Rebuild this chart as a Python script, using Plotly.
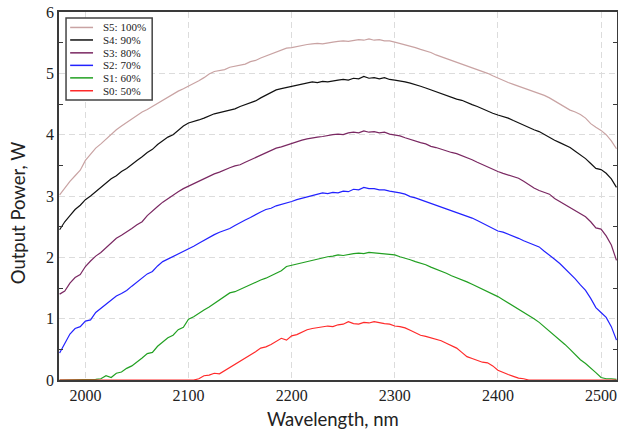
import plotly.graph_objects as go

# wavelength grid (nm), one reading every 5 nm
wavelength = list(range(1975, 2520, 5))

s5_100 = [
    3.02, 3.13, 3.24, 3.33, 3.42, 3.58, 3.68, 3.78, 3.85, 3.93,
    4.00, 4.08, 4.14, 4.20, 4.26, 4.32, 4.37, 4.41, 4.46, 4.51,
    4.57, 4.62, 4.67, 4.71, 4.75, 4.79, 4.83, 4.88, 4.93, 4.99,
    5.03, 5.05, 5.06, 5.10, 5.12, 5.13, 5.15, 5.19, 5.21, 5.25,
    5.28, 5.32, 5.35, 5.38, 5.41, 5.42, 5.44, 5.46, 5.47, 5.48,
    5.49, 5.48, 5.50, 5.51, 5.52, 5.53, 5.52, 5.54, 5.55, 5.54,
    5.56, 5.54, 5.55, 5.53, 5.53, 5.51, 5.49, 5.47, 5.44, 5.42,
    5.39, 5.37, 5.34, 5.30, 5.27, 5.25, 5.22, 5.19, 5.16, 5.13,
    5.10, 5.07, 5.03, 5.00, 4.96, 4.92, 4.89, 4.85, 4.82, 4.79,
    4.76, 4.73, 4.71, 4.68, 4.64, 4.60, 4.55, 4.50, 4.45, 4.40,
    4.37, 4.33, 4.27, 4.18, 4.12, 4.07, 4.00, 3.90, 3.77,
]
s4_90 = [
    2.45, 2.58, 2.68, 2.78, 2.85, 2.94, 3.00, 3.07, 3.14, 3.22,
    3.28, 3.33, 3.40, 3.45, 3.52, 3.58, 3.64, 3.71, 3.76, 3.84,
    3.90, 3.96, 4.00, 4.07, 4.14, 4.19, 4.21, 4.24, 4.27, 4.31,
    4.34, 4.36, 4.38, 4.40, 4.42, 4.46, 4.49, 4.52, 4.55, 4.60,
    4.64, 4.69, 4.73, 4.75, 4.77, 4.79, 4.81, 4.83, 4.84, 4.86,
    4.85, 4.87, 4.86, 4.88, 4.89, 4.90, 4.89, 4.92, 4.91, 4.95,
    4.92, 4.93, 4.91, 4.93, 4.90, 4.89, 4.88, 4.86, 4.84, 4.82,
    4.79, 4.76, 4.73, 4.70, 4.66, 4.63, 4.61, 4.58, 4.56, 4.52,
    4.49, 4.46, 4.42, 4.39, 4.35, 4.32, 4.30, 4.27, 4.23, 4.19,
    4.16, 4.12, 4.08, 4.05, 4.00, 3.95, 3.91, 3.87, 3.83, 3.79,
    3.73, 3.67, 3.61, 3.53, 3.45, 3.43, 3.37, 3.28, 3.14,
]
s3_80 = [
    1.40, 1.45, 1.58, 1.67, 1.72, 1.85, 1.94, 2.02, 2.08, 2.16,
    2.23, 2.31, 2.36, 2.41, 2.47, 2.53, 2.58, 2.68, 2.76, 2.83,
    2.90, 2.96, 3.02, 3.07, 3.12, 3.16, 3.20, 3.25, 3.29, 3.33,
    3.36, 3.39, 3.43, 3.46, 3.49, 3.51, 3.55, 3.59, 3.62, 3.66,
    3.70, 3.74, 3.78, 3.80, 3.83, 3.86, 3.88, 3.91, 3.93, 3.95,
    3.96, 3.97, 3.99, 4.00, 4.01, 4.00, 4.03, 4.04, 4.03, 4.06,
    4.04, 4.05, 4.03, 4.04, 4.01, 4.00, 3.98, 3.95, 3.92, 3.90,
    3.87, 3.85, 3.81, 3.79, 3.76, 3.74, 3.71, 3.69, 3.66, 3.62,
    3.59, 3.55, 3.51, 3.47, 3.43, 3.40, 3.37, 3.34, 3.31, 3.29,
    3.24, 3.18, 3.13, 3.09, 3.06, 3.03, 2.96, 2.91, 2.86, 2.81,
    2.76, 2.71, 2.66, 2.58, 2.48, 2.46, 2.35, 2.20, 1.95,
]
s2_70 = [
    0.44, 0.60, 0.75, 0.84, 0.87, 0.96, 0.98, 1.10, 1.17, 1.24,
    1.31, 1.37, 1.41, 1.46, 1.53, 1.60, 1.66, 1.73, 1.77, 1.86,
    1.93, 1.97, 2.01, 2.05, 2.10, 2.14, 2.18, 2.23, 2.28, 2.33,
    2.37, 2.41, 2.44, 2.47, 2.52, 2.57, 2.61, 2.65, 2.70, 2.74,
    2.78, 2.80, 2.84, 2.86, 2.89, 2.91, 2.94, 2.96, 2.99, 3.01,
    3.03, 3.05, 3.04, 3.06, 3.05, 3.08, 3.07, 3.11, 3.10, 3.14,
    3.12, 3.12, 3.10, 3.10, 3.08, 3.07, 3.05, 3.03, 2.99, 2.97,
    2.94, 2.91, 2.88, 2.86, 2.83, 2.80, 2.77, 2.74, 2.71, 2.68,
    2.64, 2.60, 2.56, 2.52, 2.47, 2.43, 2.41, 2.38, 2.34, 2.31,
    2.27, 2.24, 2.21, 2.17, 2.10, 2.04, 1.97, 1.90, 1.82, 1.73,
    1.65, 1.55, 1.46, 1.33, 1.18, 1.10, 1.02, 0.87, 0.65,
]
s1_60 = [
    0.00, 0.00, 0.00, 0.00, 0.00, 0.00, 0.00, 0.01, 0.02, 0.07,
    0.04, 0.11, 0.13, 0.19, 0.23, 0.29, 0.36, 0.43, 0.45, 0.55,
    0.62, 0.69, 0.73, 0.82, 0.86, 0.99, 1.03, 1.09, 1.14, 1.19,
    1.25, 1.30, 1.37, 1.42, 1.44, 1.48, 1.51, 1.56, 1.60, 1.63,
    1.66, 1.70, 1.73, 1.78, 1.85, 1.87, 1.89, 1.91, 1.93, 1.96,
    1.98, 1.99, 2.01, 2.02, 2.04, 2.03, 2.05, 2.06, 2.07, 2.06,
    2.08, 2.07, 2.07, 2.06, 2.05, 2.04, 2.01, 1.99, 1.96, 1.93,
    1.91, 1.88, 1.84, 1.81, 1.78, 1.74, 1.70, 1.67, 1.64, 1.60,
    1.56, 1.52, 1.48, 1.45, 1.40, 1.36, 1.31, 1.26, 1.21, 1.16,
    1.11, 1.05, 1.00, 0.94, 0.87, 0.80, 0.73, 0.66, 0.58, 0.50,
    0.42, 0.33, 0.27, 0.20, 0.12, 0.04, 0.02, 0.02, 0.01,
]
s0_50 = [
    0.00, 0.00, 0.00, 0.00, 0.00, 0.00, 0.00, 0.00, 0.00, 0.00,
    0.00, 0.00, 0.00, 0.00, 0.00, 0.00, 0.00, 0.00, 0.00, 0.00,
    0.00, 0.00, 0.00, 0.00, 0.00, 0.00, 0.00, 0.02, 0.07, 0.08,
    0.11, 0.10, 0.15, 0.20, 0.25, 0.30, 0.36, 0.41, 0.46, 0.52,
    0.54, 0.58, 0.63, 0.68, 0.65, 0.72, 0.74, 0.78, 0.82, 0.84,
    0.85, 0.86, 0.88, 0.87, 0.90, 0.91, 0.95, 0.92, 0.91, 0.94,
    0.93, 0.95, 0.93, 0.92, 0.91, 0.88, 0.87, 0.85, 0.81, 0.77,
    0.73, 0.71, 0.69, 0.66, 0.64, 0.60, 0.56, 0.52, 0.45, 0.38,
    0.35, 0.32, 0.29, 0.28, 0.23, 0.16, 0.12, 0.09, 0.06, 0.03,
    0.02, 0.00, 0.00, 0.00, 0.00, 0.00, 0.00, 0.00, 0.00, 0.00,
    0.00, 0.00, 0.00, 0.00, 0.00, 0.00, 0.00, 0.00, 0.00,
]

series_names = ["S5: 100%", "S4: 90%", "S3: 80%", "S2: 70%", "S1: 60%", "S0: 50%"]
series_values = [s5_100, s4_90, s3_80, s2_70, s1_60, s0_50]
series_colors = ["#c9a3a3", "#111111", "#7a2862", "#2222ff", "#22a022", "#ff2a2a"]

SERIF = "Liberation Serif, Times New Roman, serif"
SANS = "Lato, Open Sans, sans-serif"

fig = go.Figure()

for name, vals, color in zip(series_names, series_values, series_colors):
    fig.add_trace(
        go.Scatter(
            x=wavelength,
            y=vals,
            mode="lines",
            name=name,
            line=dict(color=color, width=1.2),
            showlegend=False,
        )
    )

# hand-made legend box (plotly's own legend rows are too tall for this layout)
fig.add_shape(
    type="rect", xref="paper", yref="paper",
    x0=0.0126, x1=0.167, y0=0.761, y1=0.984,
    line=dict(color="#444444", width=1.5), fillcolor="white", layer="above",
)
row_y = [0.958, 0.924, 0.889, 0.855, 0.821, 0.786]
for name, color, ry in zip(series_names, series_colors, row_y):
    fig.add_shape(
        type="line", xref="paper", yref="paper",
        x0=0.020, x1=0.061, y0=ry, y1=ry,
        line=dict(color=color, width=1.5), layer="above",
    )
    fig.add_annotation(
        xref="paper", yref="paper", x=0.076, y=ry,
        text=name, showarrow=False, xanchor="left", yanchor="middle",
        font=dict(family=SERIF, size=11, color="#222222"),
    )

# axis titles as annotations so they sit where the original puts them
fig.add_annotation(
    xref="paper", yref="paper", x=0.491, y=-0.105,
    text="Wavelength, nm", showarrow=False, xanchor="center", yanchor="middle",
    font=dict(family=SANS, size=18.5, color="#222222"),
)
fig.add_annotation(
    xref="paper", yref="paper", x=-0.074, y=0.455,
    text="Output Power, W", showarrow=False, textangle=-90,
    xanchor="center", yanchor="middle",
    font=dict(family=SANS, size=18.5, color="#222222"),
)

axis_common = dict(
    automargin=False,
    showline=True,
    linecolor="#3a3a3a",
    linewidth=1.5,
    mirror="allticks",
    showgrid=True,
    gridcolor="#dcdcdc",
    gridwidth=1,
    griddash="6px,4px",
    zeroline=False,
    ticks="",
    tickfont=dict(family=SERIF, size=16, color="#222222"),
)

fig.update_xaxes(range=[1974.4, 2515.5], tick0=2000, dtick=100, **axis_common)
fig.update_yaxes(
    range=[0, 6],
    dtick=1,
    minor=dict(ticks="inside", ticklen=4, dtick=0.5, tickcolor="#3a3a3a", showgrid=False),
    **axis_common,
)

fig.update_layout(
    width=618,
    height=434,
    margin=dict(l=59, r=1, t=12, b=54),
    paper_bgcolor="white",
    plot_bgcolor="white",
    showlegend=False,
)

# drop the browser's default 8px body margin so the figure sits at the page corner
fig.write_html(
    "out.html",
    config={"displayModeBar": False},
    post_script="document.body.style.margin='0px';",
)
